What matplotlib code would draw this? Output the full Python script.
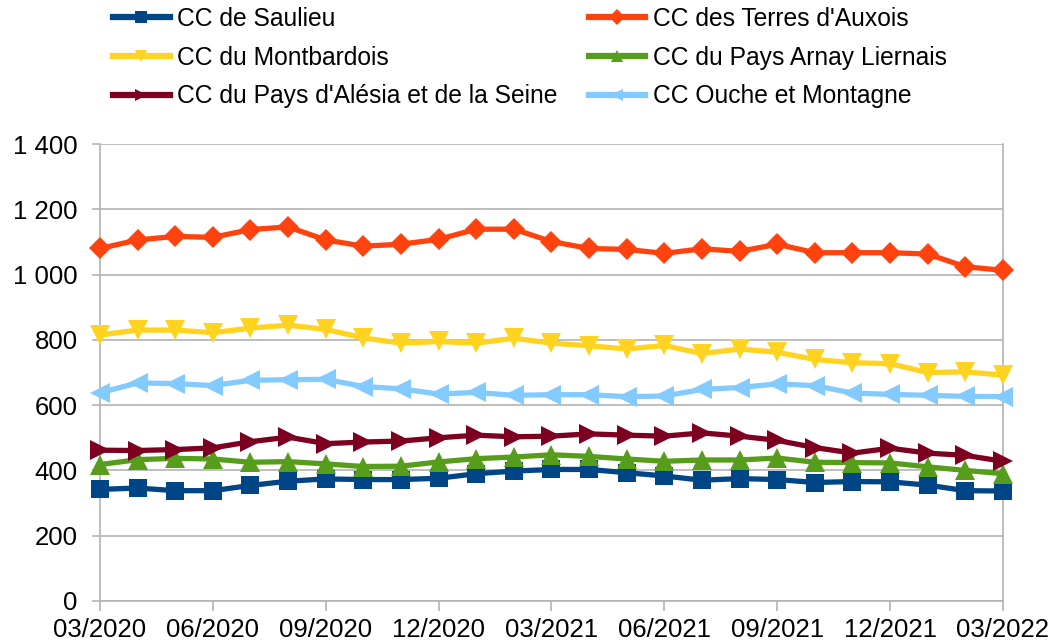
import matplotlib
matplotlib.use("Agg")
import matplotlib.pyplot as plt
from matplotlib.ticker import FuncFormatter

months = ["03/2020", "04/2020", "05/2020", "06/2020", "07/2020", "08/2020", "09/2020",
          "10/2020", "11/2020", "12/2020", "01/2021", "02/2021", "03/2021", "04/2021",
          "05/2021", "06/2021", "07/2021", "08/2021", "09/2021", "10/2021", "11/2021",
          "12/2021", "01/2022", "02/2022", "03/2022"]

saulieu = [342, 346, 338, 338, 354, 367, 374, 372, 372, 376, 390, 398, 403,
           403, 393, 383, 370, 375, 372, 363, 366, 365, 355, 338, 337]
terres = [1080, 1106, 1117, 1114, 1138, 1146, 1106, 1087, 1093, 1108, 1139, 1139, 1101,
          1080, 1077, 1065, 1079, 1071, 1093, 1067, 1067, 1067, 1063, 1024, 1013]
montbardois = [815, 830, 830, 822, 836, 845, 832, 806, 790, 795, 790, 805, 790,
               782, 772, 783, 758, 772, 762, 740, 730, 727, 700, 702, 692]
arnay = [418, 433, 437, 435, 425, 427, 420, 412, 413, 426, 436, 441, 448,
         443, 435, 428, 432, 432, 438, 425, 424, 423, 411, 400, 390]
alesia = [462, 461, 464, 469, 488, 502, 482, 487, 490, 500, 508, 503, 505,
          512, 508, 505, 515, 505, 492, 470, 453, 468, 453, 446, 428]
ouche = [638, 668, 666, 660, 676, 678, 679, 657, 650, 634, 639, 630, 632,
         632, 626, 628, 648, 654, 665, 660, 637, 633, 630, 627, 626]

tick_pos = list(range(0, 25, 3))
tick_labels = [months[i] for i in tick_pos]
y_ticks = [0, 200, 400, 600, 800, 1000, 1200, 1400]

series = [
    ("CC de Saulieu", saulieu, "#004586", "s"),
    ("CC des Terres d'Auxois", terres, "#ff420e", "D"),
    ("CC du Montbardois", montbardois, "#ffd320", "v"),
    ("CC du Pays Arnay Liernais", arnay, "#579d1c", "^"),
    ("CC du Pays d'Alésia et de la Seine", alesia, "#7e0021", ">"),
    ("CC Ouche et Montagne", ouche, "#83caff", "<"),
]
msizes = {"s": 13, "D": 11, "v": 14, "^": 14, ">": 14, "<": 14}

plt.rcParams['font.family'] = ['Liberation Sans', 'DejaVu Sans']

fig = plt.figure(figsize=(10.54, 6.42), dpi=100)
ax = fig.add_axes([100/1054, 41/642, 903/1054, 457/642])

x = list(range(len(months)))
for name, vals, col, mk in series:
    ax.plot(x, vals, color=col, lw=3.8, marker=mk, markersize=msizes[mk],
            markeredgewidth=0, label=name, clip_on=False, zorder=3)

ax.set_xlim(0, 24)
ax.set_ylim(0, 1400)
ax.set_xticks(tick_pos)
ax.set_xticklabels(tick_labels)
ax.set_yticks(y_ticks)
ax.yaxis.set_major_formatter(FuncFormatter(lambda v, p: f"{int(v):,}".replace(",", " ")))
ax.grid(axis='y', color='#b3b3b3', lw=1.2)
ax.set_axisbelow(True)
for s in ['left', 'right', 'bottom']:
    ax.spines[s].set_color('#b3b3b3')
    ax.spines[s].set_linewidth(1.2)
ax.spines['top'].set_visible(False)
ax.tick_params(axis='both', labelsize=18.5, colors='#b3b3b3', labelcolor='black',
               width=1.2)
ax.tick_params(axis='x', pad=5, length=7.5)
ax.tick_params(axis='y', pad=10, length=6)

# legend: row-wise order (matplotlib fills column-wise)
order = [0, 2, 4, 1, 3, 5]
leg_handles = [plt.Line2D([0], [0], color=series[i][2], lw=4.5, marker=series[i][3],
                          markersize=8, markeredgewidth=0) for i in order]
leg_labels = [series[i][0] for i in order]
fig.legend(leg_handles, leg_labels, ncol=2, loc='upper left',
           bbox_to_anchor=(113/1054, 1 - 7/642), frameon=False, fontsize=17.7,
           handlelength=2.3, handletextpad=0.32, columnspacing=1.25,
           labelspacing=0.6, borderpad=0, borderaxespad=0)

fig.savefig("out.png", dpi=100)
